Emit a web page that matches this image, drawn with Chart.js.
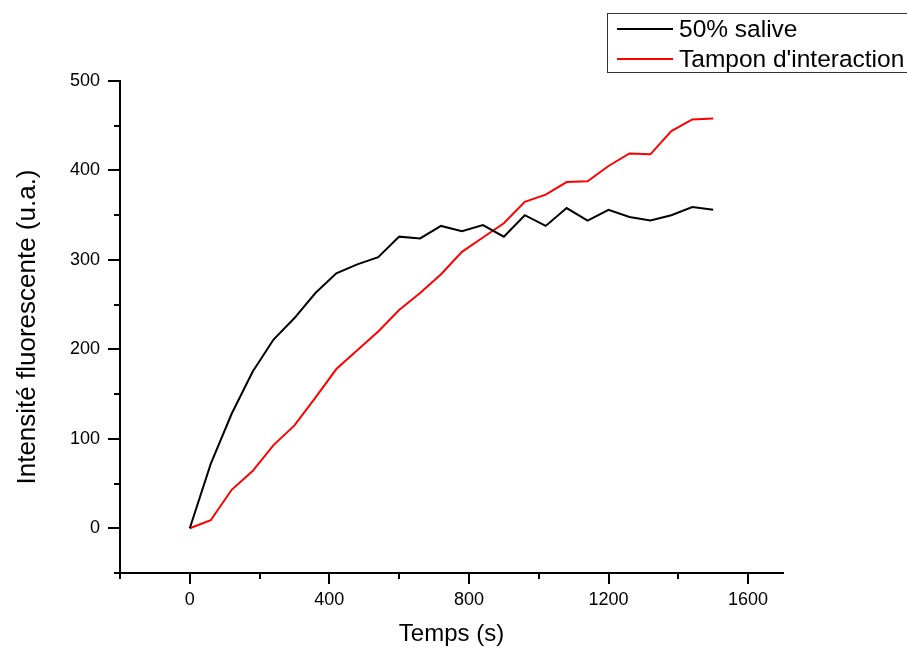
<!DOCTYPE html>
<html>
<head>
<meta charset="utf-8">
<script src="https://cdn.jsdelivr.net/npm/chart.js@4"></script>
<style>
  body { margin: 0; background: #fff; }
  canvas { display: block; }
</style>
</head>
<body>
<canvas id="fluoCanvas" width="907" height="649"></canvas>
<script>
// time (s), one reading every 60 s
const temps = [0, 60, 120, 180, 240, 300, 360, 420, 480, 540, 600, 660, 720, 780, 840,
  900, 960, 1020, 1080, 1140, 1200, 1260, 1320, 1380, 1440, 1500];
const salive = [0, 72, 128, 175, 211, 235, 263, 285, 295, 303, 326, 324, 338, 332, 339,
  326, 350, 338, 358, 344, 356, 348, 344, 350, 359, 356];
const tampon = [0, 9, 43, 64, 93, 115, 146, 178, 199, 220, 244, 263, 284, 309, 325,
  341, 365, 373, 387, 388, 405, 419, 418, 444, 457, 458];

const xMajor = [0, 400, 800, 1200, 1600];
const xMinor = [-200, 200, 600, 1000, 1400];
const yMajor = [0, 100, 200, 300, 400, 500];
const yMinor = [-50, 50, 150, 250, 350, 450];

const seriesLabels = ["50% salive", "Tampon d'interaction"];
const seriesColors = ["#000000", "#ff0000"];

const fontFam = "'Liberation Sans', Arial, sans-serif";

function toPoints(ys) {
  var pts = [];
  for (let i = 0; i < temps.length; i++) {
    pts.push({x: temps[i], y: ys[i]});
  }
  return pts;
}

// outward tick marks (major + minor) and the boxed legend, Origin style
const extras = {
  id: "extras",
  afterDraw(chart) {
    const ctx = chart.ctx;
    const xs = chart.scales.x, ys = chart.scales.y;
    const area = chart.chartArea;
    ctx.save();
    ctx.strokeStyle = "#000";
    ctx.lineWidth = 2;
    function xTick(v, len) {
      const px = Math.round(xs.getPixelForValue(v));
      ctx.beginPath();
      ctx.moveTo(px, area.bottom);
      ctx.lineTo(px, area.bottom + len);
      ctx.stroke();
    }
    function yTick(v, len) {
      const py = Math.round(ys.getPixelForValue(v));
      ctx.beginPath();
      ctx.moveTo(area.left, py);
      ctx.lineTo(area.left - len, py);
      ctx.stroke();
    }
    xMajor.forEach(function (v) { xTick(v, 11); });
    xMinor.forEach(function (v) { xTick(v, 6); });
    yMajor.forEach(function (v) { yTick(v, 12); });
    yMinor.forEach(function (v) { yTick(v, 6); });

    // legend box
    ctx.lineWidth = 1;
    ctx.strokeStyle = "#333";
    ctx.strokeRect(607.5, 13.5, 320, 59);
    ctx.font = "24.5px " + fontFam;
    ctx.textBaseline = "middle";
    ctx.textAlign = "left";
    const rows = [29, 59];
    for (let i = 0; i < seriesLabels.length; i++) {
      ctx.strokeStyle = seriesColors[i];
      ctx.lineWidth = 2;
      ctx.beginPath();
      ctx.moveTo(617, rows[i]);
      ctx.lineTo(673, rows[i]);
      ctx.stroke();
      ctx.fillStyle = "#000";
      ctx.fillText(seriesLabels[i], 679, rows[i] + 1);
    }
    ctx.restore();
  }
};

new Chart(document.getElementById("fluoCanvas"), {
  type: "line",
  data: {
    datasets: [{
      label: seriesLabels[0],
      data: toPoints(salive),
      borderColor: seriesColors[0],
      borderWidth: 2,
      pointRadius: 0,
      fill: false,
      tension: 0
    }, {
      label: seriesLabels[1],
      data: toPoints(tampon),
      borderColor: seriesColors[1],
      borderWidth: 2,
      pointRadius: 0,
      fill: false,
      tension: 0
    }]
  },
  options: {
    responsive: false,
    devicePixelRatio: 1,
    animation: false,
    layout: {padding: {top: 81, right: 124, left: 0, bottom: 0}},
    plugins: {
      legend: {display: false},
      tooltip: {enabled: false}
    },
    scales: {
      x: {
        type: "linear",
        min: -200,
        max: 1700,
        afterBuildTicks: function (scale) {
          scale.ticks = xMajor.map(function (v) { return {value: v}; });
        },
        afterFit: function (scale) { scale.height = 76; },
        grid: {display: false, drawTicks: false},
        border: {display: true, color: "#000", width: 2},
        ticks: {color: "#000", font: {family: fontFam, size: 18}, padding: 16, maxRotation: 0,
          callback: function (v) { return String(v); }},
        title: {display: true, text: "Temps (s)", color: "#000",
          font: {family: fontFam, size: 24}, padding: {top: 0, bottom: 0}}
      },
      y: {
        type: "linear",
        min: -50,
        max: 500,
        afterBuildTicks: function (scale) {
          scale.ticks = yMajor.map(function (v) { return {value: v}; });
        },
        afterFit: function (scale) { scale.width = 120; },
        grid: {display: false, drawTicks: false},
        border: {display: true, color: "#000", width: 2},
        ticks: {color: "#000", font: {family: fontFam, size: 18}, padding: 20,
          callback: function (v) { return String(v); }},
        title: {display: true, text: "Intensité fluorescente (u.a.)", color: "#000",
          font: {family: fontFam, size: 26}, padding: {top: 12, bottom: 0}}
      }
    }
  },
  plugins: [extras]
});
</script>
</body>
</html>
